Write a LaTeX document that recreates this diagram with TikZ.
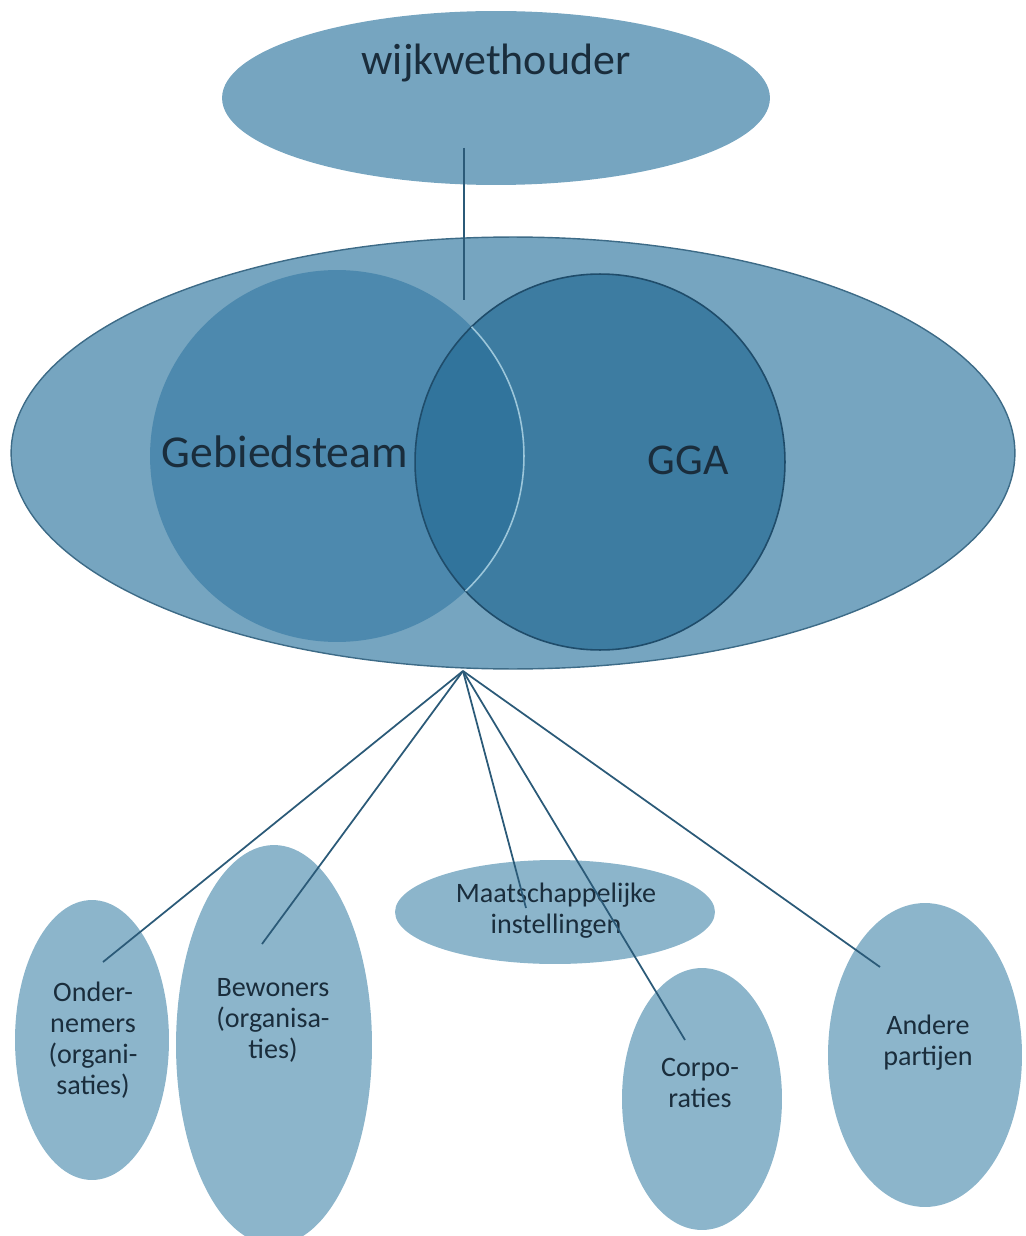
\documentclass[tikz,border=0pt]{standalone}
\usepackage{fontspec}
\setmainfont{Carlito}
\usetikzlibrary{shapes.geometric}
\definecolor{outerblue}{HTML}{76A5C0}
\definecolor{paleblue}{HTML}{8CB5CB}
\definecolor{gsblue}{HTML}{4D89AE}
\definecolor{ggablue}{HTML}{266C95}
\definecolor{rimblue}{HTML}{3D6B87}
\definecolor{navyrim}{HTML}{1F4C6A}
\definecolor{lightrim}{HTML}{9CC6DA}
\definecolor{linkblue}{HTML}{2B5A78}
\definecolor{inkblue}{HTML}{1A2D3C}

\begin{document}
\begin{tikzpicture}[x=0.02cm,y=-0.02cm,
  blob/.style={ellipse,inner sep=0pt,outer sep=0pt,fill=paleblue},
  lbl/.style={text=inkblue,align=center,font=\fontsize{16}{17.6}\selectfont},
  big/.style={text=inkblue,font=\fontsize{#1}{#1}\selectfont},
  link/.style={draw=linkblue,line width=1pt}]

\useasboundingbox (0,0) rectangle (1025,1236);

% top and the big one
\node[blob,fill=outerblue,minimum width=10.96cm,minimum height=3.48cm] (wijk) at (496,98) {};
\node[blob,fill=outerblue,draw=rimblue,line width=0.8pt,minimum width=20.08cm,minimum height=8.64cm] (gebied) at (513,453) {};

\node[blob,fill=gsblue,minimum width=7.48cm,minimum height=7.44cm] (gs) at (337,456) {};

\begin{scope}[fill opacity=.7]
  \node[blob,fill=ggablue,minimum width=7.4cm,minimum height=7.52cm] (gga) at (600,462) {};
\end{scope}
\draw[navyrim,line width=0.9pt] (gga.center) ellipse [x radius=3.7cm,y radius=3.76cm];

\begin{scope}
  \clip (gga.center) ellipse [x radius=3.7cm,y radius=3.76cm];
  \draw[lightrim,line width=0.9pt] (gs.center) ellipse [x radius=3.74cm,y radius=3.72cm];
\end{scope}

% partners
\node[blob,minimum width=3.08cm,minimum height=5.6cm] (onder) at (92,1040) {};
\node[blob,minimum width=3.92cm,minimum height=8cm] (bewon) at (274,1045) {};
\node[blob,minimum width=6.4cm,minimum height=2.08cm] (maat) at (555,912) {};
\node[blob,minimum width=3.2cm,minimum height=5.24cm] (corpo) at (702,1099) {};
\node[blob,minimum width=3.88cm,minimum height=6.08cm] (andere) at (925,1055) {};

\node[big=25] (wijk-t) at (496,63) {wijkwethouder};
\node[big=26] (gs-t) at (285,452) {Gebiedsteam};
\node[big=25] (gga-t) at (688,460) {GGA};

\node[lbl] (onder-t) at (93,1040) {Onder-\\nemers\\(organi-\\saties)};
\node[lbl] (bewon-t) at (273,1020) {Bewoners\\(organisa-\\ties)};
\node[lbl] (maat-t) at (556,911) {Maatschappelijke\\instellingen};
\node[lbl] (corpo-t) at (700,1083) {Corpo-\\raties};
\node[lbl] (andere-t) at (928,1043) {Andere\\partijen};

\coordinate (w1) at (464,148);
\coordinate (w2) at (464,300);
\coordinate (hub) at (463,671);
\coordinate (onder-e) at (103,962);
\coordinate (bewon-e) at (262,944);
\coordinate (maat-e) at (526,908);
\coordinate (corpo-e) at (685,1040);
\coordinate (andere-e) at (880,967);

\draw[link] (w1) -- (w2);
\foreach \p in {onder,bewon,maat,corpo,andere}
  \draw[link] (hub) -- (\p-e);

\end{tikzpicture}
\end{document}
